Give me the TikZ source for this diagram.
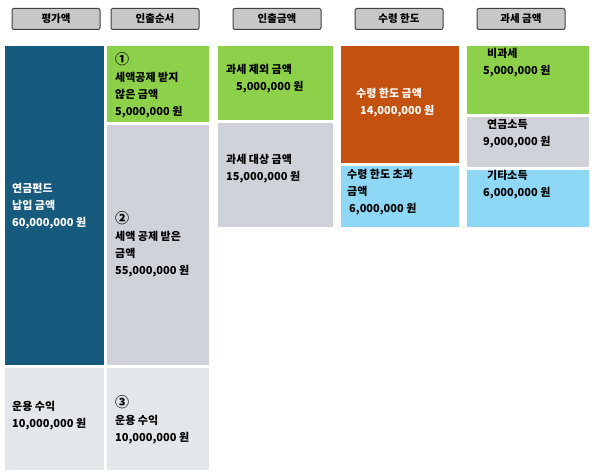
\documentclass[tikz,border=0pt]{standalone}
\usepackage{fontspec}
\setmainfont{Noto Sans CJK KR}
\begin{document}
\begin{tikzpicture}[x=1pt,y=-1pt,
 hdr/.style={draw=black!75,line width=1pt,fill=black!22,rounded corners=2pt,font=\bfseries\fontsize{10.5}{12}\selectfont,inner sep=0},
 blk/.style={draw=none,inner sep=0},
 lbl/.style={anchor=north west,align=left,font=\bfseries\fontsize{11}{17}\selectfont,inner sep=0}]
\useasboundingbox (0,0) rectangle (600,476);
\definecolor{dblue}{HTML}{165B7E}
\definecolor{lgreen}{HTML}{8DD04A}
\definecolor{mgray}{HTML}{CFD2D8}
\definecolor{lgray}{HTML}{E4E7EA}
\definecolor{orng}{HTML}{C4510F}
\definecolor{lblue}{HTML}{8ED8F6}
% headers
\node[hdr,minimum width=88,minimum height=21] (h1) at (56,19) {평가액};
\node[hdr,minimum width=88,minimum height=21] (h2) at (155,19) {인출순서};
\node[hdr,minimum width=88,minimum height=21] (h3) at (277,19) {인출금액};
\node[hdr,minimum width=88,minimum height=21] (h4) at (399,19) {수령 한도};
\node[hdr,minimum width=88,minimum height=21] (h5) at (521,19) {과세 금액};
% column 1
\fill[dblue] (5,46) rectangle (104,365);
\fill[lgray] (5,368) rectangle (104,470);
\node[lbl,text=white] (a1) at (12,183) {연금펀드\\납입 금액\\60,000,000 원};
\node[lbl] (a2) at (12,401) {운용 수익\\10,000,000 원};
% column 2
\fill[lgreen] (107,46) rectangle (209,122);
\fill[mgray] (107,125) rectangle (209,365);
\fill[lgray] (107,368) rectangle (209,470);
\node[lbl] (b1) at (115,52) {{\fontsize{14}{17}\selectfont ①}\\세액공제 받지\\않은 금액\\5,000,000 원};
\node[lbl] (b2) at (115,211) {{\fontsize{14}{17}\selectfont ②}\\세액 공제 받은\\금액\\55,000,000 원};
\node[lbl] (b3) at (115,395) {{\fontsize{14}{17}\selectfont ③}\\운용 수익\\10,000,000 원};
% column 3
\fill[lgreen] (218,46) rectangle (333,120);
\fill[mgray] (218,123) rectangle (333,227);
\node[lbl] (c1) at (226,64) {과세 제외 금액\\\hspace*{10pt}5,000,000 원};
\node[lbl] (c2) at (226,154) {과세 대상 금액\\15,000,000 원};
% column 4
\fill[orng] (341,46) rectangle (459,163);
\fill[lblue] (341,166) rectangle (459,227);
\node[lbl,text=white] (d1) at (356,88) {수령 한도 금액\\\hspace*{4pt}14,000,000 원};
\node[lbl] (d2) at (347,169) {수령 한도 초과\\금액\\\hspace*{2pt}6,000,000 원};
% column 5
\fill[lgreen] (467,46) rectangle (589,114);
\fill[mgray] (467,117) rectangle (589,167);
\fill[lblue] (467,170) rectangle (589,227);
\node[lbl] (e1) at (483,48) {\hspace*{4pt}비과세\\5,000,000 원};
\node[lbl] (e2) at (483,119) {\hspace*{4pt}연금소득\\9,000,000 원};
\node[lbl] (e3) at (483,170) {\hspace*{4pt}기타소득\\6,000,000 원};
\end{tikzpicture}
\end{document}
